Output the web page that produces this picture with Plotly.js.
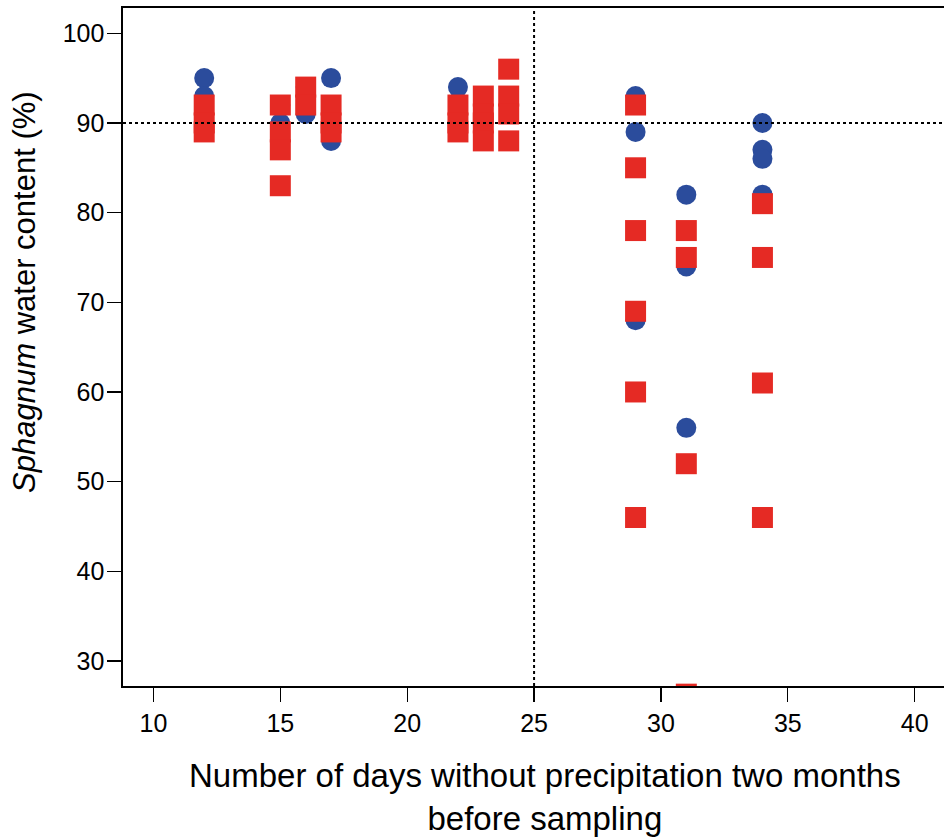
<!DOCTYPE html>
<html>
<head>
<meta charset="utf-8">
<script src="https://cdn.plot.ly/plotly-3.0.1.min.js"></script>
<style>html,body{margin:0;padding:0;background:#fff;overflow:hidden;}#chart{width:944px;height:838px;}</style>
</head>
<body>
<div id="chart"></div>
<script>
// Blue circles
const blueDays = [12,12,12,12, 15,15, 16,16, 17,17,17, 22,22,22, 29,29,29, 31,31,31, 34,34,34,34];
const blueWater = [95,93,91,89, 92,90, 94,91, 95,91,88, 94,91,90, 93,89,68, 82,74,56, 90,87,86,82];
// Red squares
const redDays = [12,12,12, 15,15,15,15, 16,16, 17,17,17, 22,22,22, 23,23,23,23, 24,24,24,24, 29,29,29,29,29,29, 31,31,31,31, 34,34,34,34];
const redWater = [92,90,89, 92,89,87,83, 94,92, 92,90,89, 92,90,89, 93,91,90,88, 96,93,91,88, 92,85,78,69,60,46, 78,75,52,26.3, 81,75,61,46];

const xTicks = [10,15,20,25,30,35,40];
const yTicks = [30,40,50,60,70,80,90,100];
const refDay = 25;
const refWater = 90;

const FONT = 'Liberation Sans, Arial, sans-serif';

const traces = [
  {x: blueDays, y: blueWater, type: 'scatter', mode: 'markers',
   marker: {symbol: 'circle', size: 20, color: '#2B4C9C', line: {width: 0}}, showlegend: false},
  {x: redDays, y: redWater, type: 'scatter', mode: 'markers',
   marker: {symbol: 'square', size: 21, color: '#E52A24', line: {width: 0}}, showlegend: false}
];

const layout = {
  width: 944, height: 838,
  margin: {l: 123, r: 0, t: 8, b: 152},
  paper_bgcolor: '#fff', plot_bgcolor: '#fff',
  font: {family: FONT, color: '#000'},
  showlegend: false,
  xaxis: {
    range: [8.80, 41.155], tickvals: xTicks, ticktext: xTicks.map(String),
    showgrid: false, zeroline: false, showline: true, mirror: true,
    linecolor: '#000', linewidth: 1.6,
    ticks: 'outside', ticklen: 14, tickwidth: 1.3, tickcolor: '#000',
    tickfont: {size: 25, family: FONT, color: '#000'}
  },
  yaxis: {
    range: [27.21, 102.82], tickvals: yTicks, ticktext: yTicks.map(String),
    showgrid: false, zeroline: false, showline: true, mirror: false,
    linecolor: '#000', linewidth: 1.6,
    ticks: 'outside', ticklen: 14, tickwidth: 1.3, tickcolor: '#000',
    ticklabelstandoff: -2,
    tickfont: {size: 25, family: FONT, color: '#000'}
  },
  shapes: [
    {type: 'line', xref: 'paper', x0: 0, x1: 1, yref: 'y', y0: refWater, y1: refWater,
     line: {color: '#000', width: 2, dash: '3px,3px'}},
    {type: 'line', xref: 'x', x0: refDay, x1: refDay, yref: 'paper', y0: 0, y1: 1,
     line: {color: '#000', width: 2, dash: '3px,3px'}}
  ],
  annotations: [
    {text: 'Number of days without precipitation two months<br>before sampling',
     xref: 'paper', yref: 'paper', x: 0.514, y: -0.1637, xanchor: 'center', yanchor: 'middle',
     showarrow: false, font: {size: 33, family: FONT, color: '#000'}, align: 'center'},
    {text: '<i>Sphagnum</i> water content (%)',
     xref: 'paper', yref: 'paper', x: -0.12, y: 0.582, xanchor: 'center', yanchor: 'middle',
     textangle: -90, showarrow: false, font: {size: 31, family: FONT, color: '#000'}}
  ]
};

Plotly.newPlot('chart', traces, layout, {displayModeBar: false, staticPlot: true});
</script>
</body>
</html>
